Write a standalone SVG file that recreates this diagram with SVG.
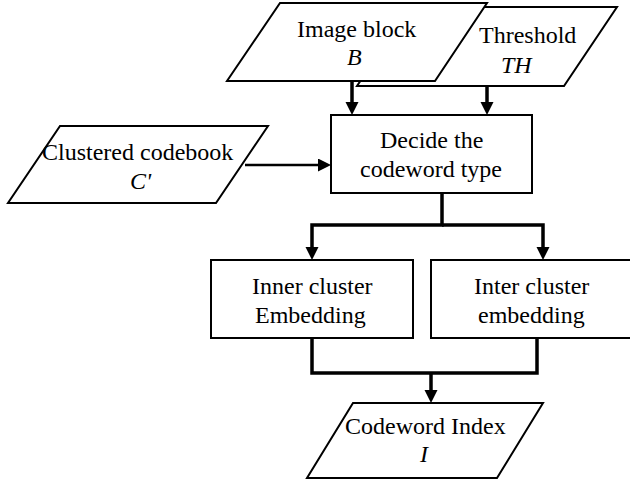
<svg xmlns="http://www.w3.org/2000/svg" width="630" height="484" viewBox="0 0 630 484">
<defs>
<marker id="ah" markerUnits="userSpaceOnUse" markerWidth="14" markerHeight="14" refX="9" refY="6.5" orient="auto">
<path d="M0,0 L13,6.5 L0,13 z" fill="#000"/>
</marker>
</defs>
<rect width="630" height="484" fill="#fff"/>
<g fill="#fff" stroke="#000" stroke-width="2">
<g id="threshold">
<polygon points="410,7 617,7 564,86 357,86"/>
</g>
<g id="image-block">
<polygon points="280,3 487,3 435,81 227,81"/>
</g>
<g id="clustered-codebook">
<polygon points="60,126 268,126 216,203 8,203"/>
</g>
<g id="decide">
<rect x="331" y="115" width="201" height="78"/>
</g>
<g id="inner">
<rect x="211" y="260" width="202" height="78"/>
</g>
<g id="inter">
<rect x="431" y="260" width="204" height="78"/>
</g>
<g id="codeword-index">
<polygon points="353,403 543,403 497,478 307,478"/>
</g>
</g>
<g id="labels">
<text x="479" y="43" font-family="Liberation Serif" font-size="24">Threshold</text>
<text x="501" y="73" font-family="Liberation Serif" font-size="24" font-style="italic">TH</text>
<text x="297" y="37" font-family="Liberation Serif" font-size="24">Image block</text>
<text x="347" y="65" font-family="Liberation Serif" font-size="24" font-style="italic">B</text>
<text x="42" y="160" font-family="Liberation Serif" font-size="24">Clustered codebook</text>
<text x="130" y="189" font-family="Liberation Serif" font-size="24" font-style="italic">C'</text>
<text x="380" y="148" font-family="Liberation Serif" font-size="24">Decide the</text>
<text x="360" y="177" font-family="Liberation Serif" font-size="24">codeword type</text>
<text x="252" y="294" font-family="Liberation Serif" font-size="24">Inner cluster</text>
<text x="255" y="323" font-family="Liberation Serif" font-size="24">Embedding</text>
<text x="474" y="294" font-family="Liberation Serif" font-size="24">Inter cluster</text>
<text x="478" y="323" font-family="Liberation Serif" font-size="24">embedding</text>
<text x="345" y="434" font-family="Liberation Serif" font-size="24">Codeword Index</text>
<text x="420" y="462" font-family="Liberation Serif" font-size="24" font-style="italic">I</text>
</g>
<g id="connectors" fill="none" stroke="#000" stroke-width="3.5">
<path d="M352,81 V111" marker-end="url(#ah)"/>
<path d="M487,86 V111" marker-end="url(#ah)"/>
<path d="M245,165 H327" stroke-width="2.5" marker-end="url(#ah)"/>
<path d="M442,193 V225 H312 V256" marker-end="url(#ah)"/>
<path d="M442,225 H543 V256" marker-end="url(#ah)"/>
<path d="M312,338 V373 H537 V338"/>
<path d="M431,373 V399" marker-end="url(#ah)"/>
</g>
</svg>
